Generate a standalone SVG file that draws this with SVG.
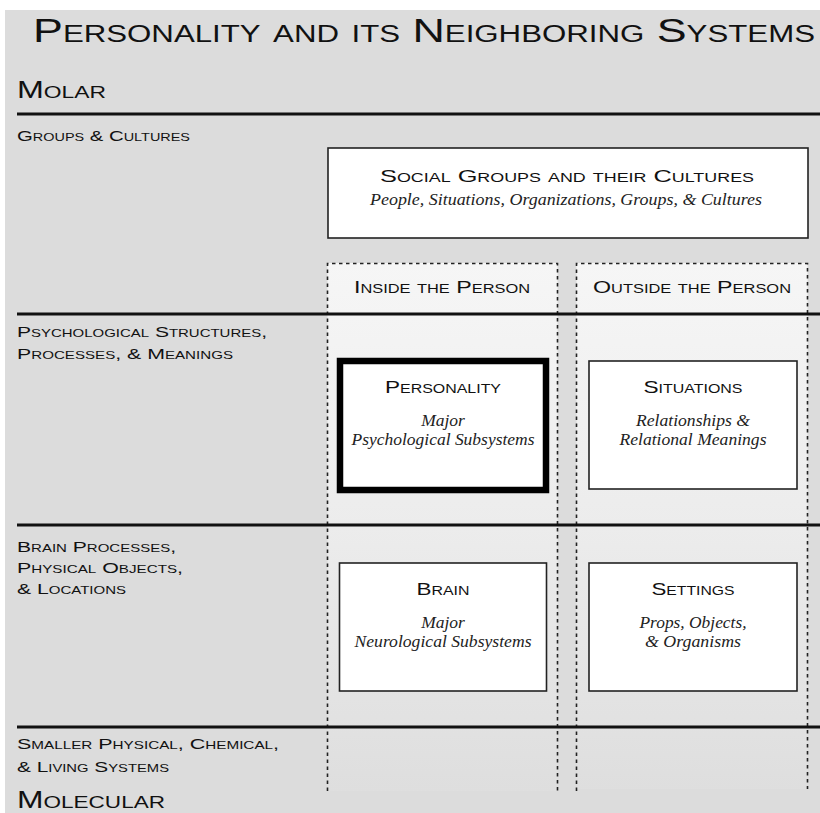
<svg xmlns="http://www.w3.org/2000/svg" width="820" height="813" viewBox="0 0 820 813">
<defs>
<linearGradient id="colg" x1="0" y1="263" x2="0" y2="792" gradientUnits="userSpaceOnUse">
<stop offset="0" stop-color="#f6f6f6"/>
<stop offset="0.5" stop-color="#ececec"/>
<stop offset="1" stop-color="#dedede"/>
</linearGradient>
<style>
.sc{font-family:"Liberation Sans","DejaVu Sans",sans-serif;font-variant:small-caps;fill:#111}
.it{font-family:"Liberation Serif","DejaVu Serif",serif;font-style:italic;fill:#222;font-size:17.5px;text-anchor:middle}
.box{fill:#fff;stroke:#222;stroke-width:1.6}
.dash{fill:none;stroke:#222;stroke-width:1.6;stroke-dasharray:3.5 3.5}
.hl{stroke:#111;stroke-width:3}
.lbl{font-size:15.5px}
.bt{font-size:17px;text-anchor:middle}
</style>
</defs>
<rect x="0" y="0" width="820" height="813" fill="#fff"/>
<rect x="5" y="10" width="815" height="803" fill="#dcdcdc"/>

<text class="sc" x="33" y="42" font-size="33" textLength="782" lengthAdjust="spacingAndGlyphs">Personality and its Neighboring Systems</text>
<text class="sc" x="17" y="98" font-size="24" textLength="89" lengthAdjust="spacingAndGlyphs">Molar</text>
<text class="sc" x="17" y="808" font-size="24" textLength="148" lengthAdjust="spacingAndGlyphs">Molecular</text>

<g id="row-labels">
<text class="sc lbl" x="17" y="141" textLength="173" lengthAdjust="spacingAndGlyphs">Groups &amp; Cultures</text>
<text class="sc lbl" x="17" y="337" textLength="250" lengthAdjust="spacingAndGlyphs">Psychological Structures,</text>
<text class="sc lbl" x="17" y="359" textLength="216" lengthAdjust="spacingAndGlyphs">Processes, &amp; Meanings</text>
<text class="sc lbl" x="17" y="552" textLength="159" lengthAdjust="spacingAndGlyphs">Brain Processes,</text>
<text class="sc lbl" x="17" y="573" textLength="166" lengthAdjust="spacingAndGlyphs">Physical Objects,</text>
<text class="sc lbl" x="17" y="594" textLength="109" lengthAdjust="spacingAndGlyphs">&amp; Locations</text>
<text class="sc lbl" x="17" y="749" textLength="262" lengthAdjust="spacingAndGlyphs">Smaller Physical, Chemical,</text>
<text class="sc lbl" x="17" y="772" textLength="152" lengthAdjust="spacingAndGlyphs">&amp; Living Systems</text>
</g>

<g id="inside-column">
<rect x="327.5" y="263" width="230" height="528" fill="url(#colg)"/>
<path class="dash" d="M327.5 791 V263.5 H557.5 V791"/>
<text class="sc bt" x="442" y="293" textLength="176" lengthAdjust="spacingAndGlyphs">Inside the Person</text>
</g>
<g id="outside-column">
<rect x="576.5" y="263" width="231" height="526" fill="url(#colg)"/>
<path class="dash" d="M576.5 791 V263.5 H807.5 V789"/>
<text class="sc bt" x="692" y="293" textLength="198" lengthAdjust="spacingAndGlyphs">Outside the Person</text>
</g>

<g id="dividers">
<line class="hl" x1="17" y1="114" x2="820" y2="114"/>
<line class="hl" x1="17" y1="314" x2="820" y2="314"/>
<line class="hl" x1="17" y1="525" x2="820" y2="525"/>
<line class="hl" x1="17" y1="727" x2="820" y2="727"/>
</g>

<g id="social-groups">
<rect class="box" x="328" y="148" width="480" height="90"/>
<text class="sc bt" x="567" y="182" font-size="19" textLength="374" lengthAdjust="spacingAndGlyphs">Social Groups and their Cultures</text>
<text class="it" x="566" y="205" textLength="392" lengthAdjust="spacingAndGlyphs">People, Situations, Organizations, Groups, &amp; Cultures</text>
</g>

<g id="personality">
<rect x="340" y="361" width="206" height="129" fill="#fff" stroke="#000" stroke-width="6.5"/>
<text class="sc bt" x="443" y="393" textLength="116" lengthAdjust="spacingAndGlyphs">Personality</text>
<text class="it" x="443" y="426">Major</text>
<text class="it" x="443" y="445" textLength="183" lengthAdjust="spacingAndGlyphs">Psychological Subsystems</text>
</g>

<g id="situations">
<rect class="box" x="589" y="361" width="208" height="128"/>
<text class="sc bt" x="693" y="393" textLength="99" lengthAdjust="spacingAndGlyphs">Situations</text>
<text class="it" x="693" y="426" textLength="114" lengthAdjust="spacingAndGlyphs">Relationships &amp;</text>
<text class="it" x="693" y="445" textLength="147" lengthAdjust="spacingAndGlyphs">Relational Meanings</text>
</g>

<g id="brain">
<rect class="box" x="339.5" y="563" width="207" height="128"/>
<text class="sc bt" x="443" y="595" textLength="53" lengthAdjust="spacingAndGlyphs">Brain</text>
<text class="it" x="443" y="628">Major</text>
<text class="it" x="443" y="647" textLength="177" lengthAdjust="spacingAndGlyphs">Neurological Subsystems</text>
</g>

<g id="settings">
<rect class="box" x="589" y="563" width="208" height="128"/>
<text class="sc bt" x="693" y="595" textLength="83" lengthAdjust="spacingAndGlyphs">Settings</text>
<text class="it" x="693" y="628" textLength="107" lengthAdjust="spacingAndGlyphs">Props, Objects,</text>
<text class="it" x="693" y="647" textLength="96" lengthAdjust="spacingAndGlyphs">&amp; Organisms</text>
</g>
</svg>
